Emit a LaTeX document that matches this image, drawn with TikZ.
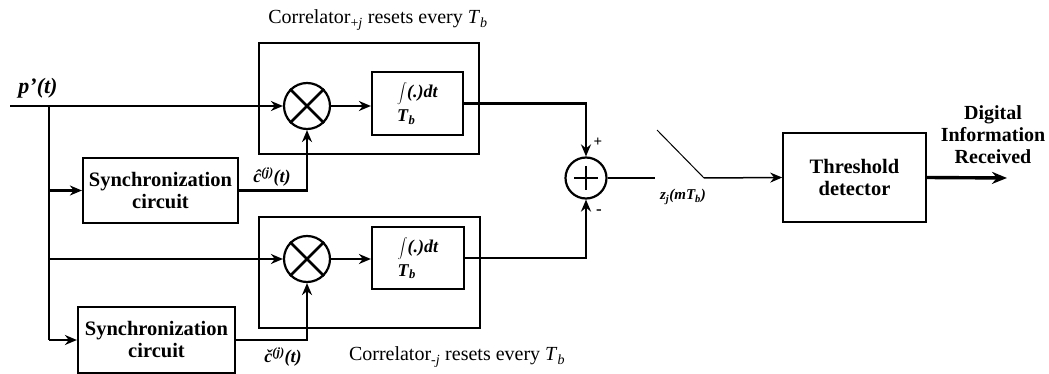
\documentclass[tikz,border=0pt]{standalone}
\usepackage{fontspec}
\setmainfont{Liberation Serif}
\usetikzlibrary{arrows.meta,calc}

\begin{document}
\begin{tikzpicture}[x=1pt,y=-1pt,>={Stealth[length=12pt,width=10pt]},font=\fontsize{20}{22}\selectfont,
  sig/.style={line width=2.6pt},
  blk/.style={draw,line width=2.2pt,inner sep=2pt,align=center,font=\fontsize{20.5}{22}\selectfont\bfseries},
  corr/.style={draw,line width=1.5pt,inner sep=0pt},
  mixer/.style={draw,circle,line width=2.2pt,inner sep=0pt,minimum size=46pt},
  tag/.style={font=\fontsize{18}{18}\selectfont\bfseries\itshape}]
\useasboundingbox (0,0) rectangle (1049,374);
% correlator frames
\node[corr,minimum width=220pt,minimum height=111pt] (corrA) at (369,98.5) {};
\node[corr,minimum width=221pt,minimum height=111pt] (corrB) at (369.5,272.5) {};
\node (corrAlbl) at (378,20) {Correlator\textsubscript{+\textit{j}} resets every \textit{T}\textsubscript{\textit{b}}};
\node (corrBlbl) at (457,357) {Correlator\textsubscript{-\textit{j}} resets every \textit{T}\textsubscript{\textit{b}}};
% mixers
\node[mixer] (mulA) at (307,106) {};
\node[mixer] (mulB) at (307,259) {};
\draw[sig] (mulA.north west) -- (mulA.south east) (mulA.north east) -- (mulA.south west);
\draw[sig] (mulB.north west) -- (mulB.south east) (mulB.north east) -- (mulB.south west);
% integrators
\node[blk,minimum width=91pt,minimum height=63pt,align=left,font=\fontsize{18}{18}\selectfont\bfseries] (intA) at (417.5,103.5) {$\displaystyle\int$\textit{(.)dt}\\[4pt]\textit{T}\textsubscript{\textit{b}}};
\node[blk,minimum width=92pt,minimum height=62pt,align=left,font=\fontsize{18}{18}\selectfont\bfseries] (intB) at (418,258) {$\displaystyle\int$\textit{(.)dt}\\[4pt]\textit{T}\textsubscript{\textit{b}}};
% sync circuits
\node[blk,minimum width=155pt,minimum height=65pt] (syncA) at (160.5,190.5) {Synchronization\\circuit};
\node[blk,minimum width=157pt,minimum height=66pt] (syncB) at (156.5,340) {Synchronization\\circuit};
% summer
\node[mixer,minimum size=41pt] (sum) at (586,178) {};
\draw[sig] ($(sum)+(-12,0)$) -- ($(sum)+(12,0)$) ($(sum)+(0,-12)$) -- ($(sum)+(0,12)$);
\node[font=\fontsize{15}{15}\selectfont\bfseries] (plus) at (598,142) {+};
\node[font=\fontsize{17}{17}\selectfont\bfseries] (minus) at (599,212) {-};
% detector
\node[blk,minimum width=143pt,minimum height=89pt,line width=1.6pt] (thr) at (854.5,177.5) {Threshold\\detector};
\node[align=center,font=\fontsize{20}{22}\selectfont\bfseries] (dig) at (993,135) {Digital\\Information\\Received};

\coordinate (in) at (10,106);
\coordinate (split) at (49,106);
\coordinate (swA) at (655,178);
\coordinate (swB) at (657,130);
\coordinate (swC) at (704,178);
\coordinate (out) at (1007,178);

% signal lines
\draw[sig,->] (in) -- (mulA.west);
\draw[sig] (split) -- (split |- syncB.west);
\draw[sig,->] (split |- syncA.west) -- (syncA.west);
\draw[sig,->] (split |- mulB.west) -- (mulB.west);
\draw[sig,->] (split |- syncB.west) -- (syncB.west);
\draw[sig,->] (mulA.east) -- (mulA.east -| intA.west);
\draw[sig,->] (mulB.east) -- (mulB.east -| intB.west);
\draw[sig,->] (syncA.east) -| (mulA.south);
\draw[sig,->] (syncB.east) -| (mulB.south);
\draw[sig,->] (intA.east) -| (sum.north);
\draw[sig,->] (intB.east) -| (sum.south);
\draw[sig] (sum.east) -- (swA);
\draw[line width=1pt] (swB) -- (swC);
\draw[line width=1.5pt,->] (swC) -- (thr.west);
\draw[line width=3.4pt,-{Stealth[length=15pt,width=12pt]}] (thr.east) -- (out);

% labels
\node[font=\fontsize{22}{22}\selectfont\bfseries\itshape] (pin) at (38,88) {p'(t)};
\node[tag] (chatA) at (272,177) {\^{c}\textsuperscript{(j)}(t)};
\node[tag] (cchkB) at (283,357) {\v{c}\textsuperscript{(j)}(t)};
\node[font=\fontsize{15}{15}\selectfont\bfseries\itshape] (zlbl) at (683,197) {z\textsubscript{j}(mT\textsubscript{b})};
\end{tikzpicture}
\end{document}
